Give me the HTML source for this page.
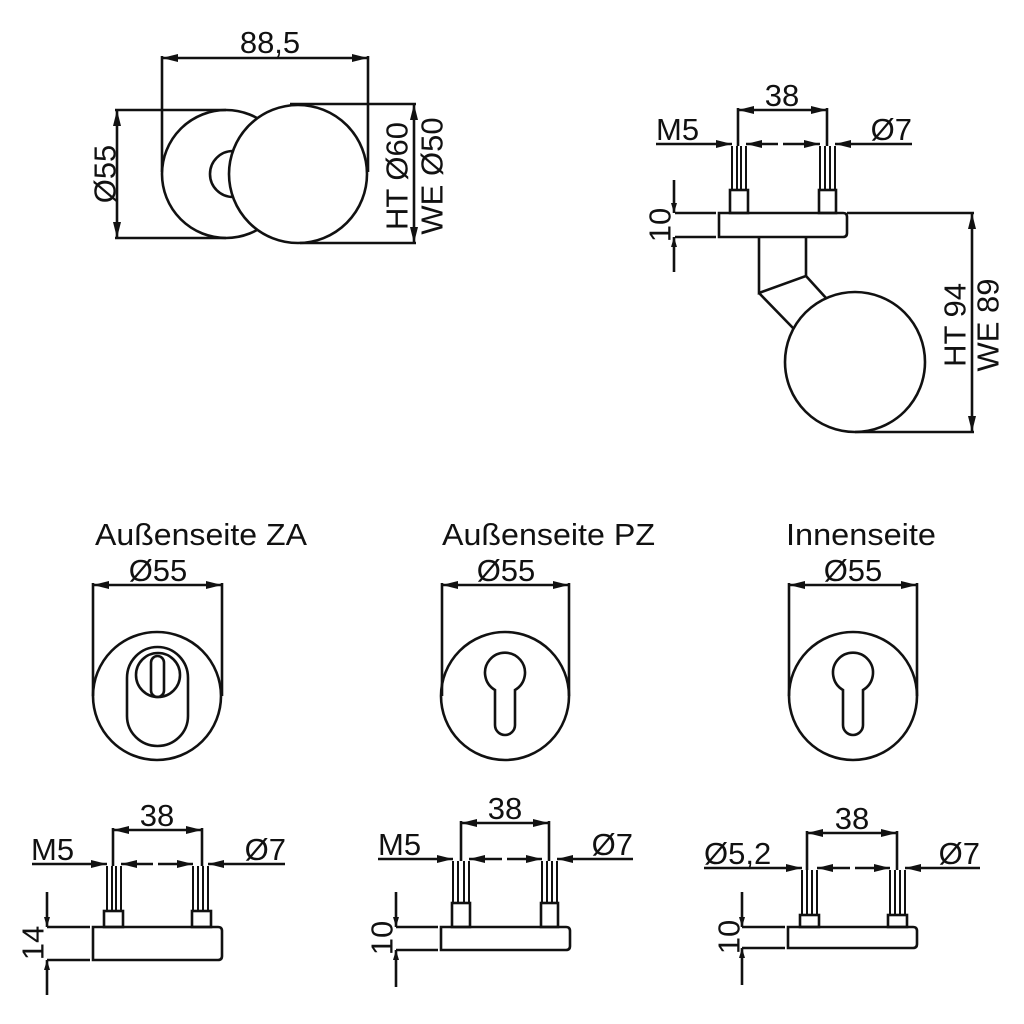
<!DOCTYPE html>
<html><head><meta charset="utf-8"><style>
html,body{margin:0;padding:0;background:#fff;}
svg{display:block;}
text{font-family:"Liberation Sans",Arial,sans-serif;fill:#111;}
</style></head><body>
<svg width="1024" height="1024" viewBox="0 0 1024 1024" xmlns="http://www.w3.org/2000/svg">
<defs>
<marker id="a" viewBox="0 0 16 8" refX="16" refY="4" markerWidth="16" markerHeight="8" markerUnits="userSpaceOnUse" orient="auto-start-reverse">
<path d="M0,0 L16,4 L0,8 Z" fill="#111"/>
</marker>
<marker id="s" viewBox="0 0 10 6" refX="10" refY="3" markerWidth="10" markerHeight="6" markerUnits="userSpaceOnUse" orient="auto-start-reverse">
<path d="M0,0 L10,3 L0,6 Z" fill="#111"/>
</marker>
</defs>
<g fill="none" stroke="#111" stroke-width="2.6">
<!-- TOP LEFT -->
<line x1="162" y1="58" x2="368" y2="58" marker-start="url(#a)" marker-end="url(#a)"/>
<line x1="162" y1="56" x2="162" y2="172"/>
<line x1="368" y1="56" x2="368" y2="172"/>
<circle cx="226" cy="174" r="64" fill="#fff"/>
<path d="M233,151 A23,23 0 1 0 233,197"/>
<circle cx="298" cy="174" r="69" fill="#fff"/>
<line x1="115" y1="110" x2="226" y2="110"/>
<line x1="115" y1="238" x2="226" y2="238"/>
<line x1="117" y1="110" x2="117" y2="238" marker-start="url(#a)" marker-end="url(#a)"/>
<line x1="290" y1="104" x2="416" y2="104"/>
<line x1="300" y1="243" x2="416" y2="243"/>
<line x1="414" y1="104" x2="414" y2="243" marker-start="url(#a)" marker-end="url(#a)"/>

<!-- TOP RIGHT -->
<line x1="738" y1="110" x2="827" y2="110" marker-start="url(#a)" marker-end="url(#a)"/>
<line x1="738" y1="108" x2="738" y2="146"/>
<line x1="827" y1="108" x2="827" y2="146"/>
<line x1="656" y1="144" x2="732" y2="144" marker-end="url(#a)"/>
<line x1="778" y1="144" x2="746" y2="144" marker-end="url(#a)"/>
<line x1="783" y1="144" x2="820" y2="144" marker-end="url(#a)"/>
<line x1="912" y1="144" x2="835" y2="144" marker-end="url(#a)"/>
<g stroke-width="2">
<line x1="732" y1="146" x2="732" y2="190"/><line x1="737" y1="146" x2="737" y2="190"/><line x1="741" y1="146" x2="741" y2="190"/><line x1="746" y1="146" x2="746" y2="190"/>
<line x1="820" y1="146" x2="820" y2="190"/><line x1="825" y1="146" x2="825" y2="190"/><line x1="830" y1="146" x2="830" y2="190"/><line x1="835" y1="146" x2="835" y2="190"/>
</g>
<rect x="730" y="190" width="18" height="23"/>
<rect x="819" y="190" width="17" height="23"/>
<path d="M719,213 H843 Q847,213 847,217 V233 Q847,237 843,237 H719 Z"/>
<line x1="675" y1="213" x2="716" y2="213"/>
<line x1="675" y1="237" x2="716" y2="237"/>
<line x1="674" y1="180" x2="674" y2="213" marker-end="url(#s)"/>
<line x1="674" y1="272" x2="674" y2="237" marker-end="url(#s)"/>
<path d="M759,237 V293 L806,276 V237"/>
<path d="M759,293 L793,328"/>
<path d="M806,276 L826,298"/>
<circle cx="855" cy="362" r="70" fill="#fff"/>
<line x1="847" y1="213" x2="974" y2="213"/>
<line x1="855" y1="432" x2="974" y2="432"/>
<line x1="972" y1="213" x2="972" y2="432" marker-start="url(#a)" marker-end="url(#a)"/>

<!-- ROSETTES -->
<line x1="93" y1="585" x2="222" y2="585" marker-start="url(#a)" marker-end="url(#a)"/>
<line x1="93" y1="583" x2="93" y2="696"/><line x1="222" y1="583" x2="222" y2="696"/>
<circle cx="157" cy="696" r="64"/>
<path d="M127,678 A30.5,31 0 0 1 188,678 V716 A30.5,30 0 0 1 127,716 Z"/>
<circle cx="158" cy="675" r="22"/>
<rect x="151" y="656" width="13" height="41" rx="6.5"/>

<line x1="442" y1="585" x2="569" y2="585" marker-start="url(#a)" marker-end="url(#a)"/>
<line x1="442" y1="583" x2="442" y2="696"/><line x1="569" y1="583" x2="569" y2="696"/>
<circle cx="505" cy="696" r="64"/>
<path d="M495,690 A20,20 0 1 1 515,690 V725 A10,10 0 0 1 495,725 Z"/>

<line x1="789" y1="585" x2="917" y2="585" marker-start="url(#a)" marker-end="url(#a)"/>
<line x1="789" y1="583" x2="789" y2="696"/><line x1="917" y1="583" x2="917" y2="696"/>
<circle cx="853" cy="696" r="64"/>
<path d="M843,690 A20,20 0 1 1 863,690 V725 A10,10 0 0 1 843,725 Z"/>

<!-- BOTTOM LEFT ELEVATION -->
<line x1="113" y1="830" x2="202" y2="830" marker-start="url(#a)" marker-end="url(#a)"/>
<line x1="113" y1="828" x2="113" y2="866"/><line x1="202" y1="828" x2="202" y2="866"/>
<line x1="32" y1="864" x2="107" y2="864" marker-end="url(#a)"/>
<line x1="153" y1="864" x2="121" y2="864" marker-end="url(#a)"/>
<line x1="158" y1="864" x2="193" y2="864" marker-end="url(#a)"/>
<line x1="285" y1="864" x2="208" y2="864" marker-end="url(#a)"/>
<g stroke-width="2">
<line x1="107" y1="866" x2="107" y2="911"/><line x1="112" y1="866" x2="112" y2="911"/><line x1="116" y1="866" x2="116" y2="911"/><line x1="121" y1="866" x2="121" y2="911"/>
<line x1="193" y1="866" x2="193" y2="911"/><line x1="198" y1="866" x2="198" y2="911"/><line x1="203" y1="866" x2="203" y2="911"/><line x1="208" y1="866" x2="208" y2="911"/>
</g>
<rect x="104" y="911" width="19" height="16"/>
<rect x="192" y="911" width="19" height="16"/>
<path d="M93,927 H218 Q222,927 222,931 V956 Q222,960 218,960 H93 Z"/>
<line x1="47" y1="927" x2="90" y2="927"/>
<line x1="47" y1="960" x2="90" y2="960"/>
<line x1="47" y1="892" x2="47" y2="927" marker-end="url(#s)"/>
<line x1="47" y1="995" x2="47" y2="960" marker-end="url(#s)"/>

<!-- BOTTOM MIDDLE ELEVATION -->
<line x1="461" y1="823" x2="549" y2="823" marker-start="url(#a)" marker-end="url(#a)"/>
<line x1="461" y1="821" x2="461" y2="861"/><line x1="549" y1="821" x2="549" y2="861"/>
<line x1="378" y1="859" x2="453" y2="859" marker-end="url(#a)"/>
<line x1="502" y1="859" x2="469" y2="859" marker-end="url(#a)"/>
<line x1="507" y1="859" x2="542" y2="859" marker-end="url(#a)"/>
<line x1="633" y1="859" x2="557" y2="859" marker-end="url(#a)"/>
<g stroke-width="2">
<line x1="453" y1="861" x2="453" y2="903"/><line x1="458" y1="861" x2="458" y2="903"/><line x1="464" y1="861" x2="464" y2="903"/><line x1="469" y1="861" x2="469" y2="903"/>
<line x1="542" y1="861" x2="542" y2="903"/><line x1="547" y1="861" x2="547" y2="903"/><line x1="552" y1="861" x2="552" y2="903"/><line x1="557" y1="861" x2="557" y2="903"/>
</g>
<rect x="452" y="903" width="18" height="24"/>
<rect x="541" y="903" width="17" height="24"/>
<path d="M441,927 H566 Q570,927 570,931 V946 Q570,950 566,950 H441 Z"/>
<line x1="396" y1="927" x2="438" y2="927"/>
<line x1="396" y1="950" x2="438" y2="950"/>
<line x1="396" y1="892" x2="396" y2="927" marker-end="url(#s)"/>
<line x1="396" y1="987" x2="396" y2="950" marker-end="url(#s)"/>

<!-- BOTTOM RIGHT ELEVATION -->
<line x1="807" y1="833" x2="897" y2="833" marker-start="url(#a)" marker-end="url(#a)"/>
<line x1="807" y1="831" x2="807" y2="870"/><line x1="897" y1="831" x2="897" y2="870"/>
<line x1="704" y1="868" x2="802" y2="868" marker-end="url(#a)"/>
<line x1="850" y1="868" x2="817" y2="868" marker-end="url(#a)"/>
<line x1="855" y1="868" x2="890" y2="868" marker-end="url(#a)"/>
<line x1="980" y1="868" x2="905" y2="868" marker-end="url(#a)"/>
<g stroke-width="2">
<line x1="802" y1="870" x2="802" y2="915"/><line x1="807" y1="870" x2="807" y2="915"/><line x1="812" y1="870" x2="812" y2="915"/><line x1="817" y1="870" x2="817" y2="915"/>
<line x1="890" y1="870" x2="890" y2="915"/><line x1="895" y1="870" x2="895" y2="915"/><line x1="900" y1="870" x2="900" y2="915"/><line x1="905" y1="870" x2="905" y2="915"/>
</g>
<rect x="800" y="915" width="19" height="12"/>
<rect x="888" y="915" width="19" height="12"/>
<path d="M788,927 H913 Q917,927 917,931 V944 Q917,948 913,948 H788 Z"/>
<line x1="742" y1="927" x2="785" y2="927"/>
<line x1="742" y1="948" x2="785" y2="948"/>
<line x1="742" y1="892" x2="742" y2="927" marker-end="url(#s)"/>
<line x1="742" y1="985" x2="742" y2="948" marker-end="url(#s)"/>
</g>

<g font-size="31">
<text x="270" y="53" text-anchor="middle">88,5</text>
<text transform="translate(105,174) rotate(-90)" text-anchor="middle" dominant-baseline="central">Ø55</text>
<text transform="translate(397,176) rotate(-90)" text-anchor="middle" dominant-baseline="central">HT Ø60</text>
<text transform="translate(432,176) rotate(-90)" text-anchor="middle" dominant-baseline="central">WE Ø50</text>

<text x="782" y="106" text-anchor="middle">38</text>
<text x="656" y="140">M5</text>
<text x="912" y="140" text-anchor="end">Ø7</text>
<text transform="translate(660,225) rotate(-90)" text-anchor="middle" dominant-baseline="central">10</text>
<text transform="translate(955,325) rotate(-90)" text-anchor="middle" dominant-baseline="central">HT 94</text>
<text transform="translate(988,325) rotate(-90)" text-anchor="middle" dominant-baseline="central">WE 89</text>

<text x="95" y="545" textLength="212" lengthAdjust="spacingAndGlyphs">Außenseite ZA</text>
<text x="442" y="545" textLength="213" lengthAdjust="spacingAndGlyphs">Außenseite PZ</text>
<text x="786" y="545" textLength="150" lengthAdjust="spacingAndGlyphs">Innenseite</text>

<text x="158" y="581" text-anchor="middle">Ø55</text>
<text x="506" y="581" text-anchor="middle">Ø55</text>
<text x="853" y="581" text-anchor="middle">Ø55</text>

<text x="157" y="826" text-anchor="middle">38</text>
<text x="31" y="860">M5</text>
<text x="286" y="860" text-anchor="end">Ø7</text>
<text transform="translate(33,943) rotate(-90)" text-anchor="middle" dominant-baseline="central">14</text>

<text x="505" y="819" text-anchor="middle">38</text>
<text x="378" y="855">M5</text>
<text x="633" y="855" text-anchor="end">Ø7</text>
<text transform="translate(382,938) rotate(-90)" text-anchor="middle" dominant-baseline="central">10</text>

<text x="852" y="829" text-anchor="middle">38</text>
<text x="704" y="864">Ø5,2</text>
<text x="980" y="864" text-anchor="end">Ø7</text>
<text transform="translate(729,937) rotate(-90)" text-anchor="middle" dominant-baseline="central">10</text>
</g>
</svg>
</body></html>
